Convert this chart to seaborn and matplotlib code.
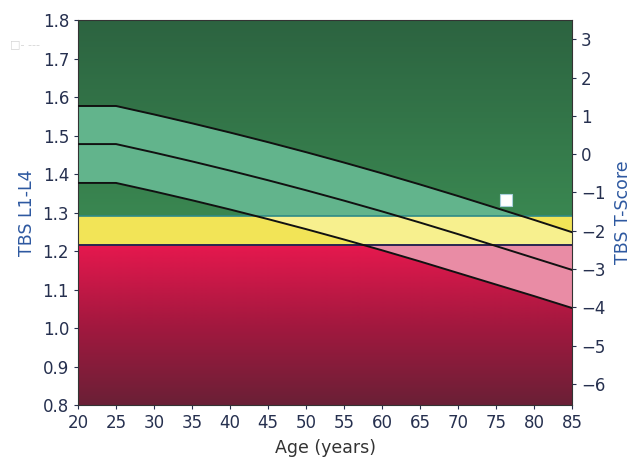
import numpy as np
import pandas as pd
import matplotlib.pyplot as plt
import matplotlib as mpl
from matplotlib.colors import LinearSegmentedColormap
from matplotlib.patches import Rectangle
import seaborn as sns

# ------------------ style ------------------
sns.set_style("ticks")
mpl.rcParams['font.family'] = ['DejaVu Sans']

# ------------------ data ------------------
ages = [20, 25, 30, 35, 40, 45, 50, 55, 60, 65, 70, 75, 80, 85]
upper_sd = [1.577, 1.577, 1.555, 1.532, 1.508, 1.483, 1.457, 1.430, 1.402, 1.373, 1.343, 1.312, 1.281, 1.249]
mean_line = [1.478, 1.478, 1.456, 1.433, 1.409, 1.384, 1.358, 1.331, 1.303, 1.274, 1.244, 1.213, 1.182, 1.151]
lower_sd = [1.377, 1.377, 1.355, 1.332, 1.308, 1.283, 1.257, 1.230, 1.202, 1.173, 1.143, 1.113, 1.083, 1.052]

normal_cut = 1.29      # green / yellow boundary
degraded_cut = 1.215   # yellow / red boundary

patient_age = [76.3]
patient_tbs = [1.333]

x_ticks = list(range(20, 90, 5))
y_ticks = [0.8, 0.9, 1.0, 1.1, 1.2, 1.3, 1.4, 1.5, 1.6, 1.7, 1.8]
t_ticks = [-6, -5, -4, -3, -2, -1, 0, 1, 2, 3]

# T-score mapping of the right axis
T_REF, T_SD = 1.452, 0.0995

# ------------------ figure ------------------
fig = plt.figure(figsize=(6.37, 4.69), dpi=100)
ax = fig.add_axes([0.1225, 0.1365, 0.7755, 0.8205])
ax.set_xlim(20, 85)
ax.set_ylim(0.8, 1.8)

# background zones with vertical gradients
green_cmap = LinearSegmentedColormap.from_list("g", ["#3a8751", "#2c6340"])
red_cmap = LinearSegmentedColormap.from_list("r", ["#6a2036", "#a3183f", "#e6184e"])
grad = np.linspace(0, 1, 256).reshape(-1, 1)
ax.imshow(grad, cmap=green_cmap, origin="lower", aspect="auto",
          extent=[20, 85, normal_cut, 1.8], zorder=0)
ax.axhspan(degraded_cut, normal_cut, color="#f2e457", lw=0, zorder=0.5)
ax.imshow(grad, cmap=red_cmap, origin="lower", aspect="auto",
          extent=[20, 85, 0.8, degraded_cut], zorder=0)

# +/- 1 SD envelope, lighter shade inside each zone
zones = [(normal_cut, 1.8, "#62b48c"),
         (degraded_cut, normal_cut, "#f7f08e"),
         (0.8, degraded_cut, "#e98ca5")]
for lo, hi, col in zones:
    poly = ax.fill_between(ages, lower_sd, upper_sd, color=col, lw=0, zorder=1)
    clip = Rectangle((20, lo), 65, hi - lo, transform=ax.transData)
    poly.set_clip_path(clip)

# zone boundary lines
ax.axhline(normal_cut, color="#2f8a86", lw=1.2, zorder=2)
ax.axhline(degraded_cut, color="#2a2550", lw=1.4, zorder=2)

# reference curves
curves = pd.DataFrame({
    "age": ages * 3,
    "tbs": upper_sd + mean_line + lower_sd,
    "curve": ["+1SD"] * len(ages) + ["mean"] * len(ages) + ["-1SD"] * len(ages),
})
sns.lineplot(data=curves, x="age", y="tbs", units="curve", estimator=None,
             color="#111111", lw=1.4, legend=False, ax=ax, zorder=3)

# patient measurement
ax.plot(patient_age, patient_tbs, marker="s", ms=9, mfc="white",
        mec="#a8d0dc", mew=0.8, ls="none", zorder=4)

# ------------------ axes ------------------
navy = "#26304f"
ax.set_xticks(x_ticks)
ax.set_yticks(y_ticks)
ax.set_yticklabels([f"{v:.1f}" for v in y_ticks])
ax.tick_params(axis="both", direction="out", length=3, width=0.8,
               labelsize=12, colors=navy)
for s in ax.spines.values():
    s.set_color("#333333")
    s.set_linewidth(0.8)

ax.set_xlabel("Age (years)", fontsize=12.5, color="#333333", labelpad=5)
ax.set_ylabel("TBS L1-L4", fontsize=12.5, color="#2d58a0", labelpad=5)

sec = ax.secondary_yaxis("right", functions=(lambda y: (y - T_REF) / T_SD,
                                              lambda t: t * T_SD + T_REF))
sec.set_yticks(t_ticks)
sec.tick_params(direction="out", length=3, width=0.8, labelsize=12, colors=navy)
sec.spines["right"].set_visible(False)
sec.set_ylabel("TBS T-Score", fontsize=12.5, color="#2d58a0", labelpad=6)

# faint scanned legend remnant
fig.text(0.015, 0.9, "\u25a1- ---", fontsize=8, color="#d4d4d4")

fig.savefig("out.png", dpi=100)
